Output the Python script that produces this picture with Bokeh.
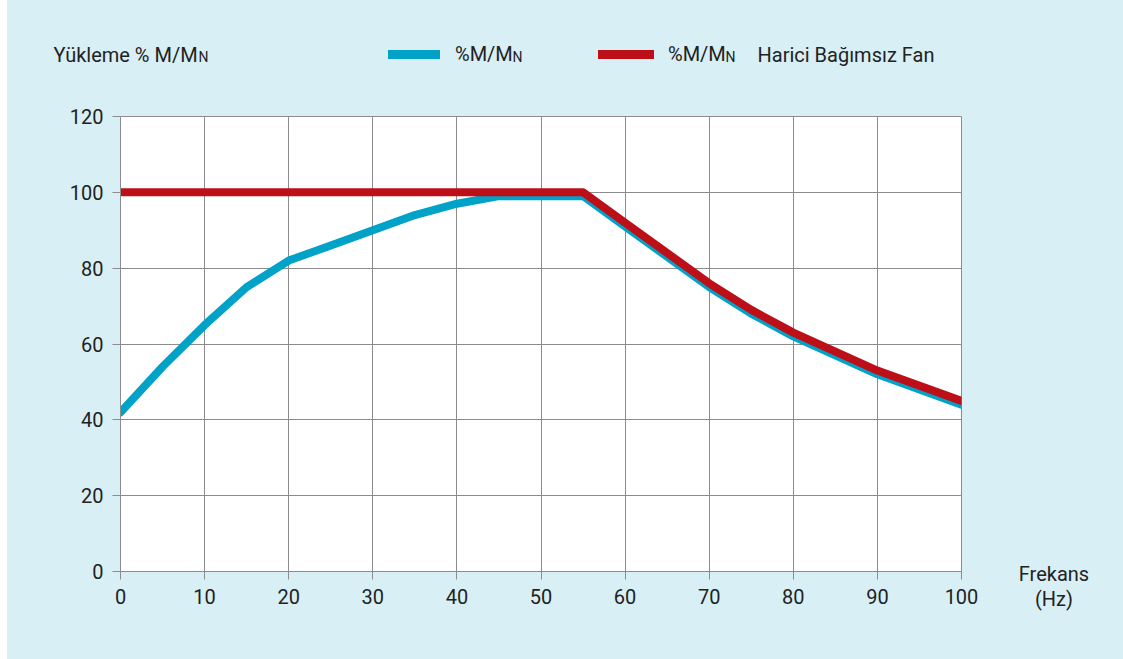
from bokeh.plotting import figure
from bokeh.layouts import column, row
from bokeh.models import Range1d, FixedTicker, Label, Legend, LegendItem, Div
from bokeh.embed import file_html
from bokeh.resources import INLINE

# ---- data ----
freq_blue = [0, 5, 10, 15, 20, 25, 30, 35, 40, 45, 50, 55, 60, 65, 70, 75, 80, 90, 100]
load_blue = [42, 54, 65, 75, 82, 86, 90, 94, 97, 99, 99, 99, 91, 83, 75, 68, 62, 52, 44]

freq_red = [0, 55, 60, 65, 70, 75, 80, 90, 100]
load_red = [100, 100, 92, 84, 76, 69, 63, 53, 45]

x_ticks = [0, 10, 20, 30, 40, 50, 60, 70, 80, 90, 100]
y_ticks = [0, 20, 40, 60, 80, 100, 120]

y_title = "Yükleme % M/M"
series_blue = "%M/M"
series_red = "%M/M"
red_extra = "Harici Bağımsız Fan"
sub_n = "N"
x_title_1 = "Frekans"
x_title_2 = "(Hz)"

BG = "#d8eff6"
BLUE = "#00a2c8"
RED = "#bd0f18"
GRID = "#8c8c8c"
TXT = "#222222"
FONT = "Roboto"
LW = 8


def legend(label, renderer, x, y, glyph_w, standoff, h=24):
    return Legend(items=[LegendItem(label=label, renderers=[renderer])],
                  location=(x, y), orientation="horizontal",
                  glyph_width=glyph_w, glyph_height=h, label_height=h,
                  label_standoff=standoff, padding=0, margin=0, spacing=0,
                  background_fill_alpha=0, border_line_alpha=0,
                  label_text_font=FONT, label_text_font_size="20px",
                  label_text_color=TXT)


def lab(fig, txt, x, y, size="20px", align="left"):
    fig.add_layout(Label(x=x, y=y, text=txt, text_font=FONT, text_font_size=size,
                         text_color=TXT, text_align=align, text_baseline="middle"))


# ---- header (legend + y title), coordinates = page pixels ----
head = figure(width=1116, height=100, output_backend="svg", toolbar_location=None,
              title=None, x_range=Range1d(7, 1123), y_range=Range1d(100, 0),
              x_axis_type=None, y_axis_type=None, min_border=0)
head.border_fill_color = BG
head.background_fill_color = BG
head.outline_line_color = None
head.grid.visible = False

# legend sample renderers: their data lie outside the header's ranges
hb = head.line(x=[0, 1], y=[-50, -50], line_color=BLUE, line_width=LW + 1,
               line_cap="round")
hr = head.line(x=[0, 1], y=[-50, -50], line_color=RED, line_width=LW + 1,
               line_cap="round")

head.add_layout(legend(series_blue, hb, 381, 34, 52, 15), "center")
head.add_layout(legend(series_red, hr, 591, 34, 56, 14), "center")

lab(head, y_title, 53, 54)
lab(head, sub_n, 198, 56, size="14px")
lab(head, sub_n, 512, 56, size="14px")
lab(head, sub_n, 725, 56, size="14px")
lab(head, red_extra, 757, 54)

# ---- main chart ----
p = figure(width=994, height=559, output_backend="svg", toolbar_location=None,
           title=None, x_range=Range1d(0, 100), y_range=Range1d(0, 120),
           min_border_left=113, min_border_right=40, min_border_top=16,
           min_border_bottom=88)
p.border_fill_color = BG
p.background_fill_color = "white"
p.outline_line_color = GRID
p.outline_line_width = 1

for ax in (p.xaxis[0], p.yaxis[0]):
    ax.axis_line_color = GRID
    ax.major_tick_line_color = GRID
    ax.major_tick_out = 8
    ax.major_tick_in = 0
    ax.minor_tick_line_color = None
    ax.major_label_text_font = FONT
    ax.major_label_text_font_size = "20px"
    ax.major_label_text_color = TXT
    ax.major_label_standoff = 9

p.xaxis[0].ticker = FixedTicker(ticks=x_ticks)
p.yaxis[0].ticker = FixedTicker(ticks=y_ticks)
p.xgrid.ticker = FixedTicker(ticks=x_ticks)
p.ygrid.ticker = FixedTicker(ticks=y_ticks)
p.grid.grid_line_color = GRID
p.grid.grid_line_width = 1

p.line(freq_blue, load_blue, line_color=BLUE, line_width=LW,
       line_cap="round", line_join="round")
p.line(freq_red, load_red, line_color=RED, line_width=LW,
       line_cap="round", line_join="round")

# ---- x-axis title to the right of the axis ----
side = Div(text=(f'<div style="margin-top:462px;width:106px;text-align:center;'
                 f'font-family:{FONT};font-size:20px;line-height:25px;color:{TXT}">'
                 f'{x_title_1}<br>{x_title_2}</div>'),
           width=122, height=559, margin=0)

layout = column(head, row(p, side, spacing=0, background=BG), spacing=0,
                margin=(0, 0, 0, 7), background=BG)

open("out.html", "w").write(file_html(layout, INLINE))
